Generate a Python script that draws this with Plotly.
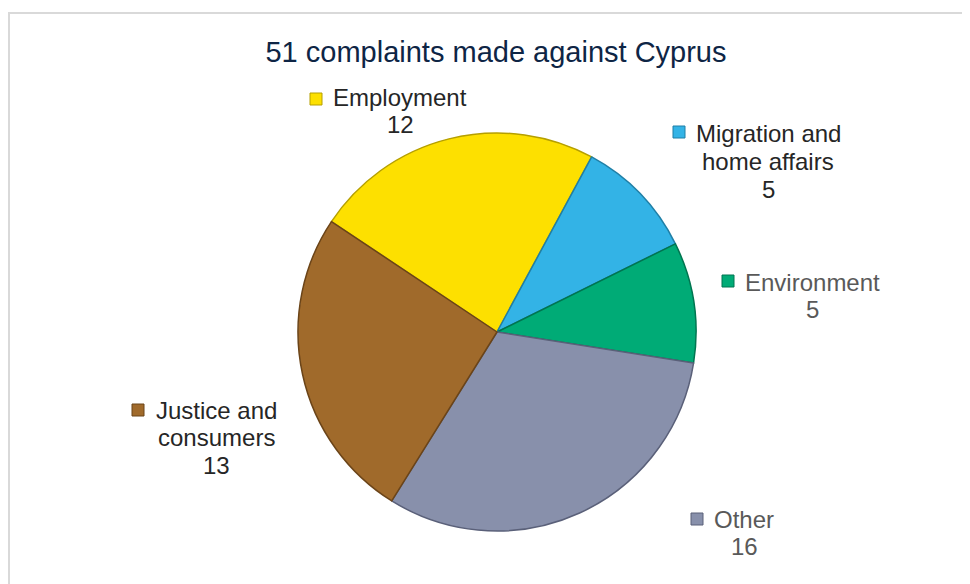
import plotly.graph_objects as go

W, H = 970, 584
OFF = 8  # page body margin shifts the figure by this many pixels

# data
categories = ["Employment", "Migration and<br>home affairs", "Environment", "Other", "Justice and<br>consumers"]
values = [12, 5, 5, 16, 13]
colors = ["#FDE000", "#33B3E6", "#00AB76", "#8890AB", "#A06A2B"]
edge_colors = ["#B59F00", "#1F7FA6", "#007550", "#5A6079", "#6B4418"]
text_colors = ["#262626", "#262626", "#595959", "#595959", "#262626"]

# label placement in screen pixels: (text centre x, first line centre y, marker x, marker y)
label_pos = [
    (400, 97, 316, 99),
    (768, 134, 679, 132),
    (812, 282, 728, 281),
    (744, 519, 697, 519),
    (216, 410, 138, 410),
]
LINE = 27.5


def px(x):
    return (x - OFF) / W


def py(y):
    return 1 - (y - OFF) / H


cx, cy, r = 497, 332, 199

fig = go.Figure()
fig.add_trace(go.Pie(
    labels=categories,
    values=values,
    sort=False,
    direction="clockwise",
    rotation=-56.3,
    marker=dict(colors=colors, line=dict(color=edge_colors, width=1.5)),
    textinfo="none",
    hoverinfo="label+value",
    showlegend=False,
    domain=dict(x=[px(cx - r), px(cx + r)], y=[py(cy + r), py(cy - r)]),
))

annotations = []
shapes = []
for lab, val, tc, col, ec, (tx, ty, mx, my) in zip(
        categories, values, text_colors, colors, edge_colors, label_pos):
    lines = lab.split("<br>") + [str(val)]
    for i, line in enumerate(lines):
        annotations.append(dict(
            x=px(tx), y=py(ty + i * LINE), xref="paper", yref="paper",
            text=line, showarrow=False,
            xanchor="center", yanchor="middle",
            font=dict(size=24, color=tc, family="Liberation Sans, Arial"),
        ))
    shapes.append(dict(
        type="rect", xref="paper", yref="paper",
        x0=px(mx - 6), x1=px(mx + 6), y0=py(my + 6), y1=py(my - 6),
        fillcolor=col, line=dict(color=ec, width=1),
    ))

# chart frame
shapes.append(dict(
    type="rect", xref="paper", yref="paper",
    x0=px(9), x1=px(1000), y0=py(620), y1=py(13),
    line=dict(color="#D9D9D9", width=2), fillcolor="rgba(0,0,0,0)",
))

fig.update_layout(
    width=W, height=H,
    margin=dict(l=0, r=0, t=0, b=0),
    paper_bgcolor="white",
    title=dict(
        text="51 complaints made against Cyprus",
        x=px(496), y=py(52), xanchor="center", yanchor="middle",
        font=dict(size=29, color="#0E2545", family="Liberation Sans, Arial"),
    ),
    annotations=annotations,
    shapes=shapes,
)

fig.write_html("out.html")
